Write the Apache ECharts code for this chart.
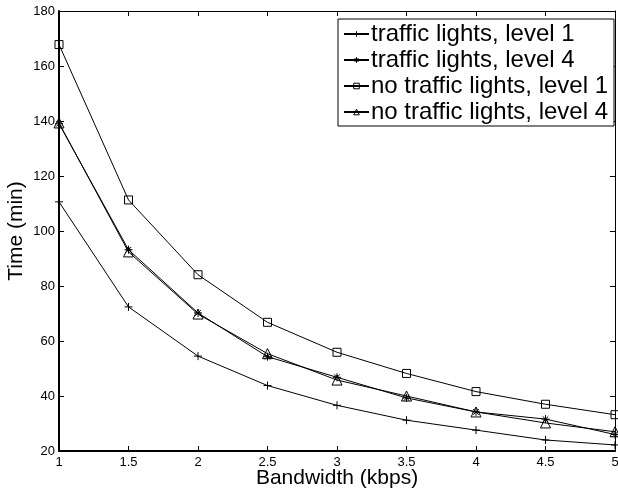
<!DOCTYPE html>
<html>
<head>
<meta charset="utf-8">
<script src="https://cdn.jsdelivr.net/npm/echarts@6/dist/echarts.min.js"></script>
<style>
html,body{margin:0;padding:0;background:#fff;}
#chart{width:618px;height:491px;}
</style>
</head>
<body>
<div id="chart"></div>
<script>
// Bandwidth values (kbps) on the horizontal axis
var bandwidth = [1, 1.5, 2, 2.5, 3, 3.5, 4, 4.5, 5];
var xTicks = ['1', '1.5', '2', '2.5', '3', '3.5', '4', '4.5', '5'];
var yTicks = [20, 40, 60, 80, 100, 120, 140, 160, 180];

// Time (min) for each scenario
var trafficLevel1 = [110.6, 72.4, 54.5, 43.8, 36.6, 31.2, 27.6, 24.0, 22.2];
var trafficLevel4 = [139.0, 93.2, 70.2, 54.3, 46.8, 39.3, 34.2, 31.6, 26.0];
var noTrafficLevel1 = [167.8, 111.3, 84.1, 66.8, 55.9, 48.2, 41.6, 37.0, 33.2];
var noTrafficLevel4 = [139.3, 92.4, 69.8, 55.4, 45.8, 40.0, 34.2, 30.2, 27.0];

var names = [
  'traffic lights, level 1',
  'traffic lights, level 4',
  'no traffic lights, level 1',
  'no traffic lights, level 4'
];

// Stroke-only marker shapes
var plusPath = 'path://M5,0L5,10M0,5L10,5';
var starPath = 'path://M5,0L5,10M0,5L10,5M1.5,1.5L8.5,8.5M8.5,1.5L1.5,8.5';
var squarePath = 'path://M0,0L10,0L10,10L0,10Z';
var trianglePath = 'path://M5,0L10,9L0,9Z';

function pairs(ys) {
  return bandwidth.map(function (x, i) { return [x, ys[i]]; });
}

function makeSeries(name, ys, symbol, size) {
  return {
    name: name,
    type: 'line',
    data: pairs(ys),
    symbol: symbol,
    symbolSize: size,
    showAllSymbol: true,
    color: '#000',
    lineStyle: { color: '#000', width: 1 },
    itemStyle: { color: 'rgba(0,0,0,0)', borderColor: '#000', borderWidth: 1 },
    emphasis: { disabled: true },
    animation: false
  };
}

var font = 'Liberation Sans, Arial, Helvetica, sans-serif';
var chart = echarts.init(document.getElementById('chart'));

var frameAxis = {
  type: 'value',
  axisLine: { show: true, lineStyle: { color: '#000', width: 1 } },
  axisTick: { show: true, inside: true, length: 5, lineStyle: { color: '#000' } },
  axisLabel: { show: false },
  splitLine: { show: false }
};

chart.setOption({
  backgroundColor: '#fff',
  animation: false,
  grid: { left: 59, right: 3, top: 11, bottom: 40, containLabel: false, outerBoundsMode: 'none' },
  legend: {
    orient: 'vertical',
    left: 338,
    top: 19,
    width: 275,
    padding: [2, 6, 1, 5],
    itemGap: 0,
    itemWidth: 25,
    itemHeight: 7,
    borderColor: '#000',
    borderWidth: 1,
    backgroundColor: '#fff',
    itemStyle: { color: 'rgba(0,0,0,0)', borderColor: '#000', borderWidth: 1 },
    textStyle: { fontFamily: font, fontSize: 24, lineHeight: 26, color: '#000', padding: [0, 0, 0, -3] },
    data: names
  },
  xAxis: [
    {
      type: 'value',
      min: 1, max: 5, interval: 0.5,
      name: 'Bandwidth (kbps)',
      nameLocation: 'middle',
      nameGap: 17,
      nameMoveOverlap: false,
      nameTextStyle: { fontFamily: font, fontSize: 21, color: '#000' },
      axisLine: { show: true, onZero: false, lineStyle: { color: '#000', width: 2 } },
      axisTick: { show: true, inside: true, length: 5, lineStyle: { color: '#000' } },
      axisLabel: {
        fontFamily: font, fontSize: 13, color: '#000', margin: 5,
        formatter: function (v) {
          var i = bandwidth.indexOf(v);
          return i >= 0 ? xTicks[i] : '';
        }
      },
      splitLine: { show: false }
    },
    Object.assign({ position: 'top', min: 1, max: 5, interval: 0.5 }, frameAxis)
  ],
  yAxis: [
    {
      type: 'value',
      min: yTicks[0], max: yTicks[yTicks.length - 1], interval: 20,
      name: 'Time (min)',
      nameLocation: 'middle',
      nameGap: 32,
      nameMoveOverlap: false,
      nameTextStyle: { fontFamily: font, fontSize: 21, color: '#000' },
      axisLine: { show: true, onZero: false, lineStyle: { color: '#000', width: 2 } },
      axisTick: { show: true, inside: true, length: 5, lineStyle: { color: '#000' } },
      axisLabel: { fontFamily: font, fontSize: 13, color: '#000', margin: 4 },
      splitLine: { show: false }
    },
    Object.assign({ position: 'right', min: 20, max: 180, interval: 20 }, frameAxis)
  ],
  series: [
    makeSeries(names[0], trafficLevel1, plusPath, 8),
    makeSeries(names[1], trafficLevel4, starPath, 8),
    makeSeries(names[2], noTrafficLevel1, squarePath, 8),
    makeSeries(names[3], noTrafficLevel4, trianglePath, 10)
  ]
});
</script>
</body>
</html>
